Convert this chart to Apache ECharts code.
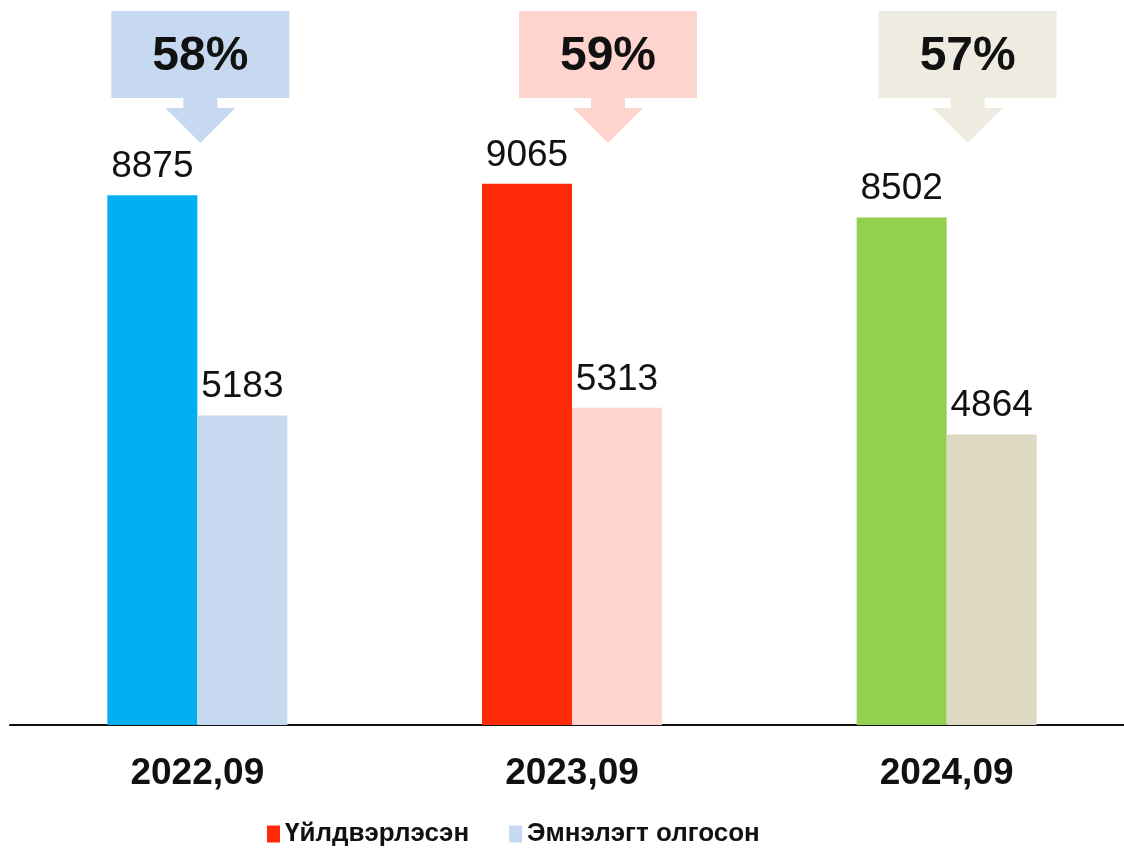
<!DOCTYPE html>
<html>
<head>
<meta charset="utf-8">
<script src="https://cdn.jsdelivr.net/npm/echarts@6/dist/echarts.min.js"></script>
<style>
  html, body { margin: 0; padding: 0; background: #fff; }
  #chart { width: 1124px; height: 851px; }
</style>
</head>
<body>
<div id="chart"></div>
<script>
// data
var periods = ['2022,09', '2023,09', '2024,09'];
var produced = [8875, 9065, 8502];      // Үйлдвэрлэсэн
var issued = [5183, 5313, 4864];        // Эмнэлэгт олгосон
var shares = [58, 59, 57];              // callout percentages

// styling
var darkColors = ['#00B0F0', '#FF2A07', '#92D050'];
var lightColors = ['#C6D9F0', '#FDD4CE', '#DDD9C3'];
var calloutColors = ['#C6D9F0', '#FDD4CE', '#EEECE1'];
var calloutShift = [3, 36, 21]; // callouts are not exactly centred in the original
var FONT = 'Arial, "Liberation Sans", sans-serif';

var chart = echarts.init(document.getElementById('chart'));

var option = {
  animation: false,
  grid: { left: 10, width: 1124, top: 128, bottom: 126, outerBoundsMode: 'none', containLabel: false },
  legend: {
    bottom: -1,
    left: 262,
    itemWidth: 13,
    itemHeight: 17,
    itemGap: 40,
    icon: 'rect',
    textStyle: { fontFamily: FONT, fontWeight: 'bold', fontSize: 26, color: '#111' },
    data: ['Үйлдвэрлэсэн', 'Эмнэлэгт олгосон']
  },
  xAxis: {
    type: 'category',
    data: periods,
    axisLine: { lineStyle: { color: '#111', width: 2 } },
    axisTick: { show: false },
    axisLabel: { fontFamily: FONT, fontWeight: 'bold', fontSize: 37, color: '#111', margin: 30 }
  },
  yAxis: {
    type: 'value',
    min: 0,
    max: 10000,
    show: false
  },
  series: [
    {
      name: 'Үйлдвэрлэсэн',
      type: 'bar',
      barWidth: 90,
      barGap: 0,
      itemStyle: { color: '#FF2A07' },
      label: { show: true, position: 'top', distance: 10, fontFamily: FONT, fontSize: 37, color: '#111' },
      data: produced.map(function (v, i) { return { value: v, itemStyle: { color: darkColors[i] } }; })
    },
    {
      name: 'Эмнэлэгт олгосон',
      type: 'bar',
      barWidth: 90,
      barGap: 0,
      itemStyle: { color: '#C6D9F0' },
      label: { show: true, position: 'top', distance: 10, fontFamily: FONT, fontSize: 37, color: '#111' },
      data: issued.map(function (v, i) { return { value: v, itemStyle: { color: lightColors[i] } }; })
    },
    {
      // arrow callouts with percentages
      type: 'custom',
      silent: true,
      z: 10,
      data: shares.map(function (v, i) { return [i, v]; }),
      renderItem: function (params, api) {
        var i = api.value(0);
        var cx = api.coord([i, 0])[0] + calloutShift[i];
        var top = 11, boxH = 87, halfW = 89;
        var stemHalf = 17, headHalf = 35, stemBottom = top + boxH + 10, tip = 143;
        return {
          type: 'group',
          children: [
            {
              type: 'polygon',
              shape: {
                points: [
                  [cx - halfW, top], [cx + halfW, top], [cx + halfW, top + boxH],
                  [cx + stemHalf, top + boxH], [cx + stemHalf, stemBottom],
                  [cx + headHalf, stemBottom], [cx, tip], [cx - headHalf, stemBottom],
                  [cx - stemHalf, stemBottom], [cx - stemHalf, top + boxH],
                  [cx - halfW, top + boxH]
                ]
              },
              style: { fill: calloutColors[i] }
            },
            {
              type: 'text',
              x: cx,
              y: top + boxH / 2 + 2,
              style: {
                text: api.value(1) + '%',
                fontFamily: FONT,
                fontWeight: 'bold',
                fontSize: 48,
                fill: '#111',
                align: 'center',
                verticalAlign: 'middle'
              }
            }
          ]
        };
      }
    }
  ]
};

chart.setOption(option);
</script>
</body>
</html>
